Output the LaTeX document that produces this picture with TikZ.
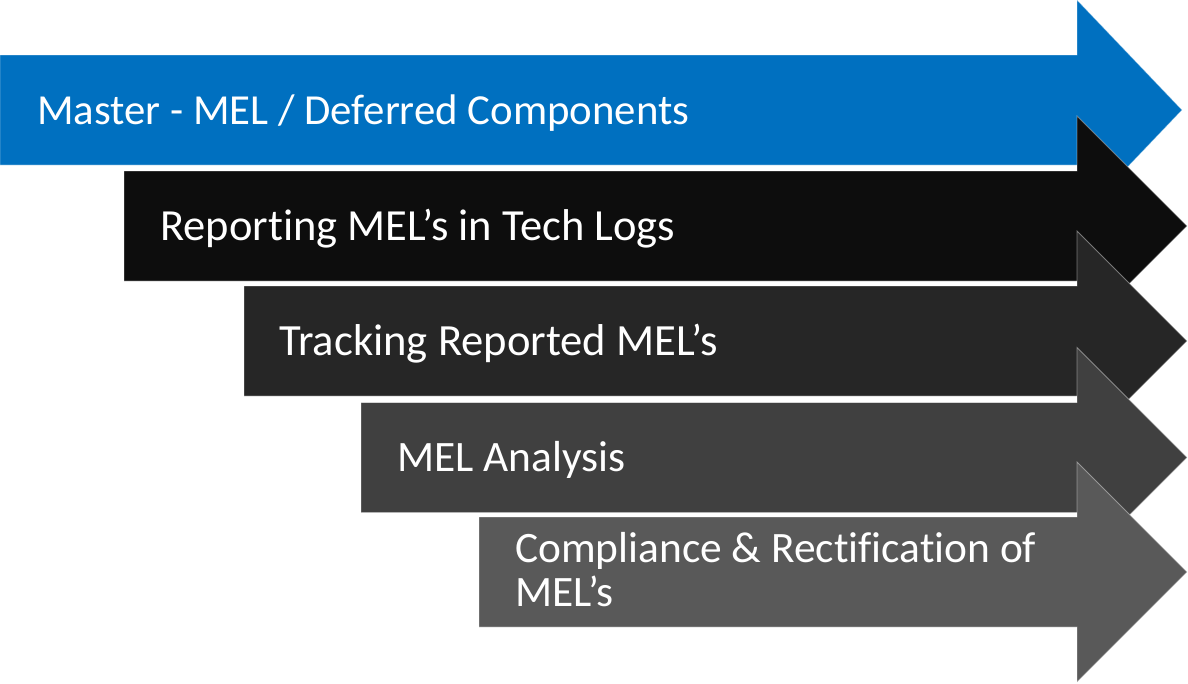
\documentclass[tikz,border=0pt]{standalone}
\usepackage{fontspec}
\setmainfont{Carlito}[Ligatures=NoCommon]
\usepackage{xcolor}
\usepackage{tikz}
\usetikzlibrary{calc}
\definecolor{melblue}{HTML}{0070C0}
\definecolor{melgrayA}{HTML}{0D0D0D}
\definecolor{melgrayB}{HTML}{262626}
\definecolor{melgrayC}{HTML}{404040}
\definecolor{melgrayD}{HTML}{595959}
% #1 left end, #2 middle height, #3 tip, #4 fill colour
\newcommand{\melarrow}[4]{
	\filldraw[arrowbody, fill=#4] (#1,#2-55) -- (1077,#2-55) -- (1077,#2-110) -- (#3,#2)
		-- (1077,#2+110) -- (1077,#2+55) -- (#1,#2+55) -- cycle;
}

\begin{document}
\begin{tikzpicture}[x=1pt, y=-1pt,
		arrowbody/.style={draw=white, draw opacity=0.4, line width=0.8pt},
		arrowtext/.style={text=white, inner sep=0pt, anchor=base west, align=left, font=\fontsize{#1}{44}\selectfont},
		arrowtext/.default=43]
		
		\useasboundingbox (0,0) rectangle (1188,683);
		
		\melarrow{0}{110}{1182}{melblue}
		\node[arrowtext=42.8] (master) at (37,124) {Master - MEL / Deferred Components};
		
		\melarrow{124}{226}{1187}{melgrayA}
		\node[arrowtext=44.5] (report) at (160,240) {Reporting MEL’s in Tech Logs};
		
		\melarrow{244}{341}{1187}{melgrayB}
		\node[arrowtext=44.6] (track) at (279,355) {Tracking Reported MEL’s};
		
		\melarrow{361}{457.5}{1187}{melgrayC}
		\node[arrowtext=43.4] (analysis) at (397,471) {MEL Analysis};
		
		\melarrow{479}{572}{1187}{melgrayD}
		\node[arrowtext=43.4] (comply) at (515,606) {Compliance \& Rectification of\\MEL’s}; % base is the last line
		
		\end{tikzpicture}
\end{document}
